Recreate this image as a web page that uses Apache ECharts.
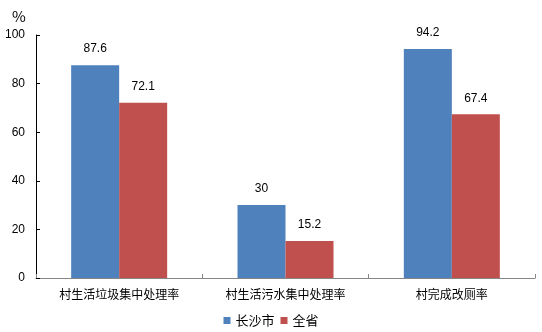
<!DOCTYPE html>
<html><head><meta charset="utf-8">
<script src="https://cdn.jsdelivr.net/npm/echarts@6/dist/echarts.min.js"></script>
<style>html,body{margin:0;padding:0;background:#fff}#c{width:542px;height:332px}</style>
</head><body><div id="c"></div>
<script>
var categories = ['村生活垃圾集中处理率', '村生活污水集中处理率', '村完成改厕率'];
var seriesNames = ['长沙市', '全省'];
var changsha = [87.6, 30, 94.2];
var province = [72.1, 15.2, 67.4];
var yTicks = [0, 20, 40, 60, 80, 100];

var font = '"Noto Sans CJK SC", "Liberation Sans", sans-serif';
var chart = echarts.init(document.getElementById('c'));
chart.setOption({
  animation: false,
  textStyle: {fontFamily: font},
  grid: {left: 36, right: 7, top: 35, bottom: 54, containLabel: false},
  title: {text: '%', left: 7, top: 4, textStyle: {fontSize: 15, fontWeight: 'normal', color: '#000', fontFamily: font}},
  legend: {
    data: seriesNames, bottom: 0, left: 'center', itemWidth: 7, itemHeight: 7, itemGap: 6,
    icon: 'rect', textStyle: {fontSize: 13, color: '#000', fontFamily: font}
  },
  xAxis: {
    type: 'category', data: categories,
    axisLine: {lineStyle: {color: '#868686', width: 1}},
    axisTick: {show: true, inside: true, length: 4, alignWithLabel: false, lineStyle: {color: '#868686'}},
    axisLabel: {fontSize: 12, color: '#000', margin: 10, fontFamily: font},
    splitLine: {show: false}
  },
  yAxis: {
    type: 'value', min: yTicks[0], max: yTicks[yTicks.length-1], interval: 20,
    axisLine: {show: true, lineStyle: {color: '#000', width: 1}},
    axisTick: {show: true, inside: true, length: 4, lineStyle: {color: '#000'}},
    axisLabel: {fontSize: 12, color: '#000', margin: 11, fontFamily: '"Liberation Sans", sans-serif'},
    splitLine: {show: false}
  },
  series: [
    {name: seriesNames[0], type: 'bar', data: changsha, barWidth: 48, barGap: '0%',
     itemStyle: {color: '#4F81BD'},
     label: {show: true, position: 'top', distance: 10, fontSize: 12, color: '#000', fontFamily: '"Liberation Sans", sans-serif'}},
    {name: seriesNames[1], type: 'bar', data: province, barWidth: 48, barGap: '0%',
     itemStyle: {color: '#C0504D'},
     label: {show: true, position: 'top', distance: 10, fontSize: 12, color: '#000', fontFamily: '"Liberation Sans", sans-serif'}}
  ]
});
</script></body></html>
